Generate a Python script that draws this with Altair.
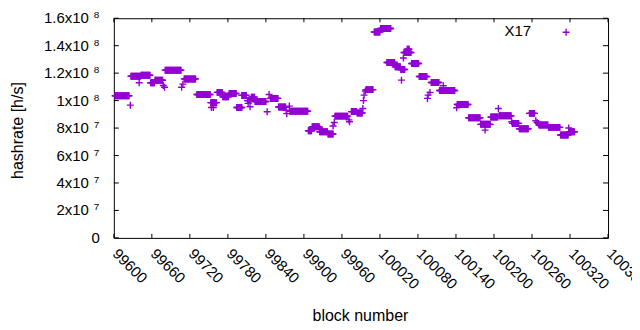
import altair as alt
import pandas as pd

# ---- data (block number, hashrate h/s) ----
# runs of consecutive blocks sharing the same hashrate
seg_start = [99602, 99627, 99643, 99658, 99665, 99681, 99711, 99731, 99753, 99763,
             99772, 99782, 99794, 99802, 99811, 99817, 99823, 99847, 99860, 99878,
             99907, 99913, 99925, 99938, 99949, 99975, 99984, 99998, 100011, 100021,
             100031, 100044, 100053, 100058, 100063, 100070, 100082, 100101, 100114, 100142,
             100160, 100179, 100195, 100208, 100229, 100240, 100256, 100271, 100286, 100305,
             100319]
seg_end = [99624, 99642, 99657, 99664, 99677, 99706, 99729, 99752, 99762, 99771,
           99781, 99793, 99802, 99809, 99816, 99822, 99840, 99859, 99871, 99906,
           99912, 99924, 99937, 99946, 99969, 99983, 99992, 100009, 100020, 100037,
           100043, 100052, 100059, 100069, 100066, 100081, 100094, 100113, 100138, 100159,
           100178, 100194, 100206, 100227, 100239, 100254, 100264, 100285, 100304, 100317,
           100327]
seg_value = [1.035e8, 1.177e8, 1.185e8, 1.13e8, 1.148e8, 1.222e8, 1.158e8, 1.045e8, 0.985e8, 1.06e8,
             1.028e8, 1.052e8, 0.95e8, 1.038e8, 1.0e8, 1.025e8, 0.994e8, 1.016e8, 0.953e8, 0.922e8,
             0.78e8, 0.81e8, 0.773e8, 0.757e8, 0.887e8, 0.92e8, 0.91e8, 1.08e8, 1.5e8, 1.525e8,
             1.278e8, 1.246e8, 1.227e8, 1.35e8, 1.375e8, 1.27e8, 1.176e8, 1.132e8, 1.074e8, 0.972e8,
             0.875e8, 0.827e8, 0.88e8, 0.89e8, 0.834e8, 0.795e8, 0.907e8, 0.822e8, 0.805e8, 0.749e8,
             0.773e8]
# isolated blocks
pt_block = [99626, 99640, 99678, 99680, 99707, 99709, 99754, 99757, 99812, 99815,
            99842, 99845, 99872, 99873, 99877, 99925, 99946, 99948, 99971, 99972,
            99993, 99994, 99995, 99997, 100054, 100057, 100095, 100096, 100099, 100120,
            100141, 100186, 100207, 100228, 100266, 100268, 100270, 100318]
pt_value = [0.967e8, 1.13e8, 1.11e8, 1.097e8, 1.097e8, 1.12e8, 0.95e8, 0.95e8, 0.98e8, 0.955e8,
            0.919e8, 1.045e8, 0.93e8, 0.905e8, 0.96e8, 0.80e8, 0.815e8, 0.84e8, 0.86e8, 0.846e8,
            0.943e8, 1.0e8, 1.04e8, 1.07e8, 1.149e8, 1.31e8, 1.016e8, 1.04e8, 1.06e8, 1.108e8,
            0.948e8, 0.785e8, 0.943e8, 0.846e8, 0.853e8, 0.841e8, 0.834e8, 0.80e8]

x_ticks = [99600, 99660, 99720, 99780, 99840, 99900, 99960, 100020, 100080,
           100140, 100200, 100260, 100320, 100380]
x_labels = [str(v) for v in x_ticks]
y_ticks = [0, 2e7, 4e7, 6e7, 8e7, 1e8, 1.2e8, 1.4e8, 1.6e8]
y_main = ["0", "2x10", "4x10", "6x10", "8x10", "1x10", "1.2x10", "1.4x10", "1.6x10"]
y_exp = ["", "7", "7", "7", "7", "8", "8", "8", "8"]

rows = []
for s, e, v in zip(seg_start, seg_end, seg_value):
    for b in range(s, e + 1):
        rows.append({"block": b, "hashrate": v})
for b, v in zip(pt_block, pt_value):
    rows.append({"block": b, "hashrate": v})
df = pd.DataFrame(rows)

xt = pd.DataFrame({"block": x_ticks, "label": x_labels})
yt = pd.DataFrame({"hashrate": y_ticks, "main": y_main, "exp": y_exp})

FONT = "Liberation Sans"
PURPLE = "#9400d3"
PLUS = "M-1,0L1,0M0,-1L0,1"
W, H = 495, 220

xs = alt.Scale(domain=[99600, 100380], nice=False, zero=False)
ys = alt.Scale(domain=[0, 1.6e8], nice=False, zero=False)

x_axis = alt.Axis(labels=False, ticks=False, domain=False, grid=False,
                  title="block number", titleFont=FONT, titleFontSize=16,
                  titleFontWeight="normal", titleColor="black",
                  titleX=W / 2 - 1, titleY=83, titleAlign="center", titleBaseline="alphabetic")
y_axis = alt.Axis(labels=False, ticks=False, domain=False, grid=False,
                  title="hashrate [h/s]", titleFont=FONT, titleFontSize=16,
                  titleFontWeight="normal", titleColor="black",
                  titleX=-91, titleY=H / 2 + 2, titleAlign="center", titleBaseline="alphabetic")

points = alt.Chart(df).mark_point(shape=PLUS, filled=False, size=49, strokeWidth=1.4,
                                  color=PURPLE, opacity=1).encode(
    x=alt.X("block:Q", scale=xs, axis=x_axis),
    y=alt.Y("hashrate:Q", scale=ys, axis=y_axis),
)

tick_bottom = alt.Chart(xt).mark_rule(color="black", strokeWidth=1).encode(
    x=alt.X("block:Q", scale=xs), y=alt.value(H), y2=alt.value(H - 4))
tick_top = alt.Chart(xt).mark_rule(color="black", strokeWidth=1).encode(
    x=alt.X("block:Q", scale=xs), y=alt.value(0), y2=alt.value(4))
tick_left = alt.Chart(yt).mark_rule(color="black", strokeWidth=1).encode(
    y=alt.Y("hashrate:Q", scale=ys), x=alt.value(0), x2=alt.value(5))
tick_right = alt.Chart(yt).mark_rule(color="black", strokeWidth=1).encode(
    y=alt.Y("hashrate:Q", scale=ys), x=alt.value(W), x2=alt.value(W - 5))

xlab = alt.Chart(xt).mark_text(
    font=FONT, fontSize=15, align="left", baseline="middle", angle=45, dx=2,
    color="black").encode(
    x=alt.X("block:Q", scale=xs), y=alt.value(H + 12), text="label:N")

ylab_main = alt.Chart(yt[yt["exp"] != ""]).mark_text(
    font=FONT, fontSize=15, align="right", baseline="middle", color="black").encode(
    y=alt.Y("hashrate:Q", scale=ys), x=alt.value(-25), text="main:N")
ylab_exp = alt.Chart(yt[yt["exp"] != ""]).mark_text(
    font=FONT, fontSize=10, align="left", baseline="alphabetic", color="black").encode(
    y=alt.Y("hashrate:Q", scale=ys), x=alt.value(-20), text="exp:N")
ylab_zero = alt.Chart(yt[yt["exp"] == ""]).mark_text(
    font=FONT, fontSize=15, align="right", baseline="middle", color="black").encode(
    y=alt.Y("hashrate:Q", scale=ys), x=alt.value(-14), text="main:N")

legend_text = alt.Chart(pd.DataFrame({"t": ["X17"]})).mark_text(
    font=FONT, fontSize=15, align="right", baseline="middle", color="black").encode(
    x=alt.value(418), y=alt.value(13), text="t:N")
legend_sym = alt.Chart(pd.DataFrame({"t": ["X17"]})).mark_point(
    shape=PLUS, filled=False, size=49, strokeWidth=1.4, color=PURPLE, opacity=1).encode(
    x=alt.value(453), y=alt.value(14))

chart = alt.layer(points, tick_bottom, tick_top, tick_left, tick_right, xlab,
                  ylab_main, ylab_exp, ylab_zero, legend_text, legend_sym).properties(
    width=W, height=H,
    autosize=alt.AutoSizeParams(type="none"),
    padding={"left": 106, "top": 10, "right": 24, "bottom": 90},
    background="white",
).configure_view(stroke="black", strokeWidth=1)

chart.save("out.html", embed_options={"renderer": "svg", "actions": False})
